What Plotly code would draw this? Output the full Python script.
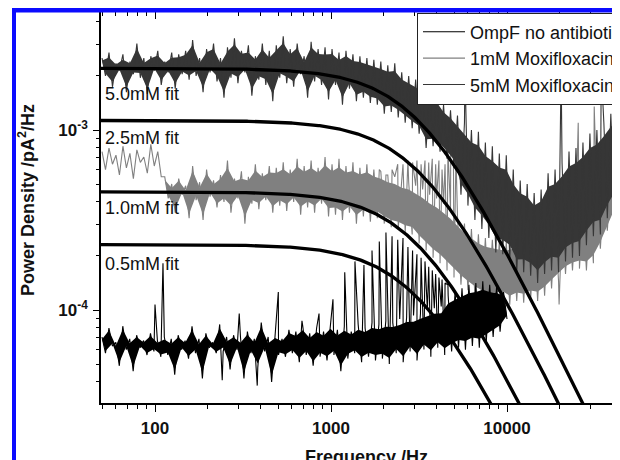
import numpy as np
import plotly.graph_objects as go

# ---------------- data (log10 of power density, pA^2/Hz) ----------------
F_MIN = 50.0
F_MAX_MOX = 44600.0
F_MAX_OMPF = 10000.0

log_psd_5mM = [
    -2.60, -2.70, -2.57, -2.76, -2.63, -2.67, -2.58, -2.79, -2.62, -2.69,
    -2.52, -2.71, -2.60, -2.80, -2.59, -2.67, -2.56, -2.75, -2.62, -2.68,
    -2.57, -2.77, -2.58, -2.69, -2.56, -2.72, -2.50, -2.70, -2.60, -2.79,
    -2.55, -2.68, -2.52, -2.73, -2.60, -2.82, -2.54, -2.71, -2.49, -2.74,
    -2.56, -2.68, -2.53, -2.81, -2.59, -2.72, -2.52, -2.75, -2.56, -2.84,
    -2.53, -2.71, -2.48, -2.74, -2.55, -2.76, -2.52, -2.69, -2.59, -2.82,
    -2.51, -2.73, -2.55, -2.75, -2.54, -2.83, -2.55, -2.75, -2.57, -2.86,
    -2.56, -2.77, -2.58, -2.84, -2.59, -2.82, -2.60, -2.85, -2.61, -2.86,
    -2.62, -2.91, -2.64, -2.90, -2.63, -2.93, -2.68, -2.96, -2.70, -2.99,
    -2.72, -3.02, -2.75, -3.10, -2.79, -3.09, -2.80, -3.12, -2.86, -3.16,
    -2.89, -3.21, -2.92, -3.36, -2.96, -3.42, -3.00, -3.50, -3.01, -3.55,
    -3.07, -3.60, -3.09, -3.68, -3.13, -3.69, -3.14, -3.72, -3.22, -3.80,
    -3.28, -3.79, -3.30, -3.81, -3.35, -3.85, -3.33, -3.80, -3.24, -3.78,
    -3.22, -3.79, -3.18, -3.73, -3.12, -3.71, -3.10, -3.70, -3.07, -3.64,
    -3.02, -3.59, -3.00, -3.58, -2.96, -3.49, -2.91, -3.42, -2.90, -3.33,
]
spike_5mM_freq = [5770, 20300, 34300]
spike_5mM_log = [-2.66, -2.66, -2.66]

log_psd_1mM = [
    -3.12, -3.22, -3.10, -3.19, -3.14, -3.25, -3.09, -3.21, -3.13, -3.27,
    -3.11, -3.18, -3.15, -3.24, -3.08, -3.20, -3.12, -3.26, -3.26, -3.38,
    -3.30, -3.46, -3.27, -3.36, -3.31, -3.49, -3.20, -3.39, -3.29, -3.50,
    -3.22, -3.37, -3.28, -3.43, -3.25, -3.40, -3.17, -3.46, -3.27, -3.38,
    -3.23, -3.52, -3.26, -3.41, -3.19, -3.44, -3.24, -3.39, -3.20, -3.46,
    -3.21, -3.42, -3.18, -3.45, -3.22, -3.40, -3.16, -3.47, -3.20, -3.43,
    -3.17, -3.46, -3.21, -3.41, -3.15, -3.48, -3.19, -3.47, -3.16, -3.50,
    -3.20, -3.46, -3.18, -3.52, -3.21, -3.48, -3.19, -3.51, -3.22, -3.49,
    -3.23, -3.52, -3.25, -3.54, -3.26, -3.55, -3.28, -3.57, -3.29, -3.58,
    -3.31, -3.63, -3.33, -3.67, -3.36, -3.71, -3.38, -3.74, -3.41, -3.78,
    -3.44, -3.82, -3.48, -3.86, -3.52, -3.89, -3.55, -3.92, -3.58, -3.94,
    -3.60, -3.95, -3.61, -3.95, -3.62, -3.94, -3.62, -3.97, -3.61, -3.95,
    -3.60, -3.96, -3.59, -3.94, -3.58, -3.95, -3.56, -3.92, -3.53, -3.88,
    -3.51, -3.84, -3.49, -3.80, -3.47, -3.78, -3.45, -3.77, -3.43, -3.78,
    -3.41, -3.74, -3.38, -3.66, -3.33, -3.56, -3.26, -3.47, -3.18, -3.38,
]
spike_1mM_freq = [1881, 2052, 2223, 2394, 2565, 2736, 2907, 3078, 3249, 3420,
                  3591, 3762, 3933, 4104, 4275, 4446, 4617, 4788, 4959, 5130,
                  19770, 25390, 31300]
spike_1mM_log = [-3.22, -3.25, -3.22, -3.19, -3.19, -3.17, -3.18, -3.17, -3.19, -3.17,
                 -3.18, -3.16, -3.19, -3.17, -3.22, -3.19, -3.11, -3.14, -3.10, -3.14,
                 -3.97, -2.96, -2.87]

log_psd_ompf = [
    -4.15, -4.24, -4.10, -4.20, -4.18, -4.31, -4.09, -4.22, -4.16, -4.34,
    -4.14, -4.21, -4.17, -4.25, -4.13, -4.23, -4.17, -4.26, -4.15, -4.25,
    -4.16, -4.36, -4.14, -4.22, -4.17, -4.27, -4.09, -4.24, -4.16, -4.38,
    -4.13, -4.21, -4.18, -4.24, -4.08, -4.23, -4.15, -4.33, -4.14, -4.22,
    -4.15, -4.38, -4.12, -4.24, -4.16, -4.32, -4.07, -4.23, -4.15, -4.40,
    -4.14, -4.25, -4.16, -4.26, -4.11, -4.24, -4.12, -4.29, -4.09, -4.25,
    -4.13, -4.31, -4.10, -4.26, -4.12, -4.28, -4.08, -4.25, -4.11, -4.34,
    -4.09, -4.27, -4.12, -4.24, -4.08, -4.29, -4.10, -4.26, -4.07, -4.28,
    -4.08, -4.27, -4.06, -4.30, -4.07, -4.24, -4.05, -4.29, -4.04, -4.23,
    -4.03, -4.28, -4.02, -4.22, -4.00, -4.26, -3.99, -4.21, -3.98, -4.25,
    -3.92, -4.23, -3.90, -4.21, -3.88, -4.22, -3.86, -4.20, -3.85, -4.21,
    -3.84, -4.18, -3.86, -4.15, -3.87, -4.12, -3.90, -4.05,
]
spike_ompf_freq = [100, 111, 241, 301, 381, 502, 684, 855,
                   1026, 1197, 1368, 1539, 1710, 1881, 2052, 2223, 2394, 2565, 2736,
                   2907, 3078, 3249, 3420, 3591, 3762, 3933, 4104, 4275, 4446, 4617]
spike_ompf_log = [-3.97, -3.74, -4.39, -4.02, -4.42, -3.90, -4.06, -4.02,
                  -3.94, -3.79, -3.73, -3.75, -3.67, -3.62, -3.57, -3.59, -3.61, -3.60, -3.65,
                  -3.67, -3.69, -3.71, -3.73, -3.76, -3.78, -3.80, -3.82, -3.83, -3.85, -3.86]

# Lorentzian fits  S(f) = S0 / (1 + (f/fc)^2)
fit_labels = ["5.0mM fit", "2.5mM fit", "1.0mM fit", "0.5mM fit"]
fit_s0 = [2.20e-3, 1.13e-3, 4.54e-4, 2.31e-4]
fit_fc = [3200, 3260, 3140, 3140]

series_names = ["OmpF no antibiotic", "1mM Moxifloxacin", "5mM Moxifloxacin"]

x_major = [100, 1000, 10000]
x_minor = [50, 60, 70, 80, 90, 200, 300, 400, 500, 600, 700, 800, 900,
           2000, 3000, 4000, 5000, 6000, 7000, 8000, 9000, 20000, 30000, 40000]
y_major = [1e-4, 1e-3]
y_major_text = ["10<sup>-4</sup>", "10<sup>-3</sup>"]
y_minor = [4e-5, 5e-5, 6e-5, 7e-5, 8e-5, 9e-5,
           2e-4, 3e-4, 4e-4, 5e-4, 6e-4, 7e-4, 8e-4, 9e-4, 2e-3, 3e-3, 4e-3]

# ---------------- layout geometry ----------------
# The page body has an 8 px margin, so the figure is drawn 8 px smaller and
# every reference pixel position is shifted by OFF.
OFF = 8
W, H = 620 - OFF, 460 - OFF
PL, PR, PT, PB = 101 - OFF, 620 - OFF, 12 - OFF, 403 - OFF
XL, XR = 2 - 54 / 176, 2 + 465 / 176
YT, YB = -3 + 118 / 180, -4 - 93 / 180
FONT = "Liberation Sans, Arial, sans-serif"


def px_x(px):  # reference page pixel -> paper x
    return (px - OFF - PL) / (PR - PL)


def px_y(py):
    return (PB - (py - OFF)) / (PB - PT)


def logx_at(px):
    return XL + px_x(px) * (XR - XL)


def logy_at(py):
    return YB + px_y(py) * (YT - YB)


C_OMPF, C_1MM, C_5MM = "#000000", "#808080", "#363636"
CORE = 0.72   # fraction of each local hi/lo excursion drawn as the dense core


def merged(fmax, vals, sf, sv):
    f = np.geomspace(F_MIN, fmax, len(vals))
    v = np.asarray(vals, float)
    fa = np.concatenate([f, np.asarray(sf, float)])
    va = np.concatenate([v, np.asarray(sv, float)])
    o = np.argsort(fa)
    return f, v, fa[o], va[o]


def band_traces(f, v, start, color):
    n = (len(v) - start) // 2
    hi = v[start:start + 2 * n:2]
    lo = v[start + 1:start + 2 * n:2]
    mid = (hi + lo) / 2
    up_v = mid + CORE * (hi - mid)
    lo_v = mid + CORE * (lo - mid)
    t_lo = go.Scatter(x=f[start + 1:start + 2 * n:2], y=10 ** lo_v, mode="lines",
                      line=dict(width=0, color=color), showlegend=False, hoverinfo="skip")
    t_up = go.Scatter(x=f[start:start + 2 * n:2], y=10 ** up_v, mode="lines",
                      line=dict(width=0, color=color), fill="tonexty", fillcolor=color,
                      showlegend=False, hoverinfo="skip")
    return [t_lo, t_up]


fig = go.Figure()

f1, v1, f1a, v1a = merged(F_MAX_MOX, log_psd_1mM, spike_1mM_freq, spike_1mM_log)
f5, v5, f5a, v5a = merged(F_MAX_MOX, log_psd_5mM, spike_5mM_freq, spike_5mM_log)
fo, vo, foa, voa = merged(F_MAX_OMPF, log_psd_ompf, spike_ompf_freq, spike_ompf_log)

for t in band_traces(f1, v1, 18, C_1MM):
    fig.add_trace(t)
fig.add_trace(go.Scatter(x=f1a, y=10 ** v1a, mode="lines", name=series_names[1],
                         line=dict(color=C_1MM, width=1.1), legendrank=2))
for t in band_traces(f5, v5, 0, C_5MM):
    fig.add_trace(t)
fig.add_trace(go.Scatter(x=f5a, y=10 ** v5a, mode="lines", name=series_names[2],
                         line=dict(color=C_5MM, width=1.1), legendrank=3))
for t in band_traces(fo, vo, 0, C_OMPF):
    fig.add_trace(t)
fig.add_trace(go.Scatter(x=foa, y=10 ** voa, mode="lines", name=series_names[0],
                         line=dict(color=C_OMPF, width=1.1), legendrank=1))

f_fit = np.geomspace(45, 50000, 400)
for s0, fc in zip(fit_s0, fit_fc):
    fig.add_trace(go.Scatter(x=f_fit, y=s0 / (1 + (f_fit / fc) ** 2), mode="lines",
                             line=dict(color="black", width=3.3), showlegend=False,
                             hoverinfo="skip"))

# invisible trace so the top (inside-tick) axis is drawn
fig.add_trace(go.Scatter(x=[1000], y=[1e-4], xaxis="x2", mode="markers",
                         marker=dict(opacity=0), showlegend=False, hoverinfo="skip"))

label_py = [94, 138, 208, 264]
annotations = []
for txt, py in zip(fit_labels, label_py):
    annotations.append(dict(text=txt, x=logx_at(103), y=logy_at(py), xref="x", yref="y",
                            xanchor="left", yanchor="middle", showarrow=False,
                            font=dict(family=FONT, size=18, color="#111")))
annotations.append(dict(text="Frequency /Hz", x=px_x(366), y=px_y(457), xref="paper",
                        yref="paper", xanchor="center", yanchor="middle", showarrow=False,
                        font=dict(family=FONT, size=18, color="#111", weight="bold")))
annotations.append(dict(text="Power Density /pA<sup>2</sup>/Hz", x=px_x(27), y=px_y(200),
                        xref="paper", yref="paper", xanchor="center", yanchor="middle",
                        textangle=-90, showarrow=False,
                        font=dict(family=FONT, size=18, color="#111", weight="bold")))

blue = "#0b0bff"
shapes = [
    dict(type="rect", xref="paper", yref="paper", x0=px_x(12), x1=px_x(16),
         y0=px_y(470), y1=px_y(7), fillcolor=blue, line=dict(width=0), layer="above"),
    dict(type="rect", xref="paper", yref="paper", x0=px_x(12), x1=px_x(630),
         y0=px_y(12.4), y1=px_y(7), fillcolor=blue, line=dict(width=0), layer="above"),
]

tickfont = dict(family=FONT, size=17, color="#111", weight="bold")
fig.update_layout(
    width=W, height=H,
    margin=dict(l=PL, r=W - PR, t=PT, b=H - PB, autoexpand=False),
    paper_bgcolor="white", plot_bgcolor="white",
    font=dict(family=FONT, color="#111"),
    hovermode=False,
    xaxis=dict(type="log", range=[XL, XR], showgrid=False, zeroline=False,
               showline=True, linecolor="black", linewidth=1.5,
               ticks="outside", ticklen=7, tickwidth=1.3, tickcolor="black",
               tickvals=x_major, ticktext=[str(v) for v in x_major],
               tickfont=tickfont, ticklabelstandoff=2,
               minor=dict(tickvals=x_minor, ticks="outside", ticklen=4,
                          tickwidth=1.2, tickcolor="black", showgrid=False)),
    xaxis2=dict(type="log", range=[XL, XR], overlaying="x", side="top", anchor="y",
                showgrid=False, zeroline=False, showline=True, linecolor="black",
                linewidth=1.5, ticks="inside", ticklen=7, tickwidth=1.3,
                tickcolor="black", tickvals=x_major, showticklabels=False,
                minor=dict(tickvals=x_minor, ticks="inside", ticklen=4,
                           tickwidth=1.2, tickcolor="black", showgrid=False)),
    yaxis=dict(type="log", range=[YB, YT], showgrid=False, zeroline=False,
               showline=True, linecolor="black", linewidth=1.5,
               ticks="outside", ticklen=6, tickwidth=1.3, tickcolor="black",
               tickvals=y_major, ticktext=y_major_text, tickfont=tickfont,
               ticklabelstandoff=2,
               minor=dict(tickvals=y_minor, ticks="outside", ticklen=3.5,
                          tickwidth=1.2, tickcolor="black", showgrid=False)),
    legend=dict(x=px_x(417), xanchor="left", y=px_y(12.5), yanchor="top",
                bgcolor="white", bordercolor="#222", borderwidth=1,
                font=dict(family=FONT, size=18, color="#111"),
                itemwidth=42, tracegroupgap=0, traceorder="normal"),
    annotations=annotations,
    shapes=shapes,
)

fig.write_html("out.html")
